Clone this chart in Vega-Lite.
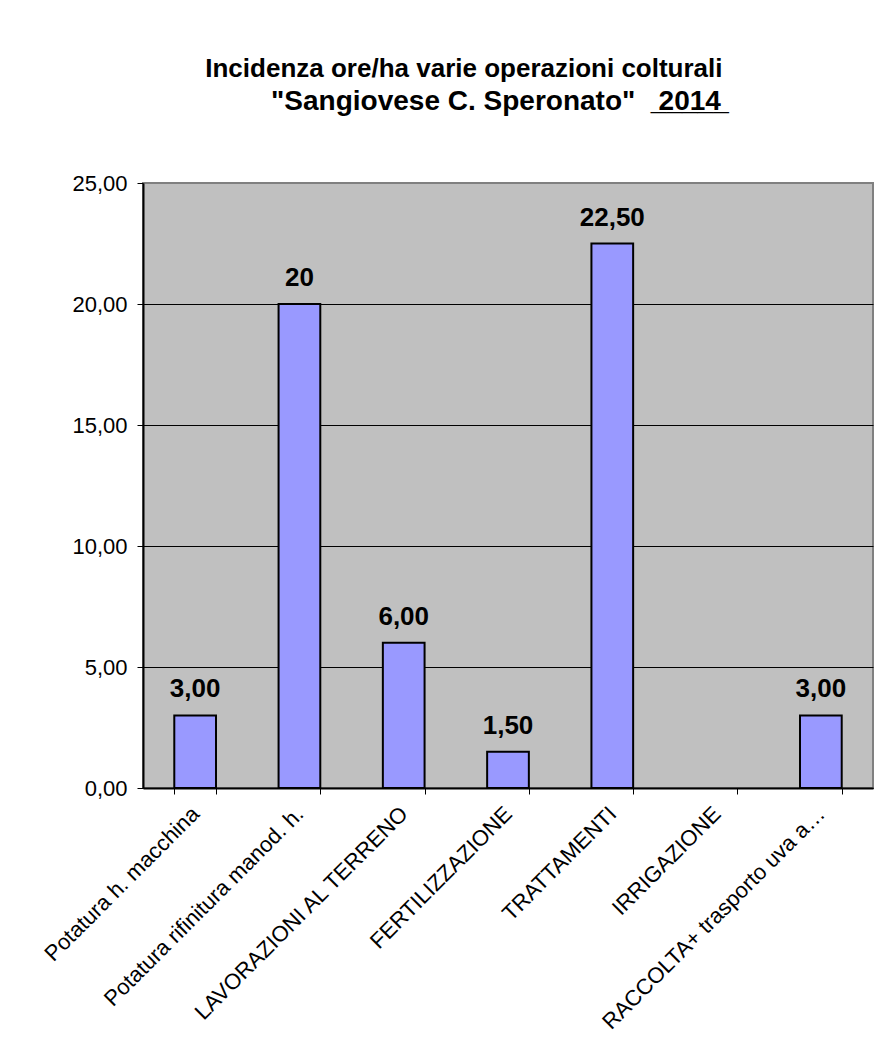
{
  "$schema": "https://vega.github.io/schema/vega-lite/v6.json",
  "width": 730,
  "height": 605,
  "autosize": {"type": "none"},
  "padding": {"left": 143, "top": 183, "right": 10, "bottom": 265},
  "background": "white",
  "title": {
    "text": "Incidenza ore/ha varie operazioni colturali\u00a0\u2800\u2800\u2800",
    "subtitle": "\"Sangiovese C. Speronato\" \u00a0\u00a0\u03322\u03320\u03321\u03324\u0332",
    "font": "Liberation Sans",
    "fontSize": 26,
    "fontWeight": "bold",
    "color": "black",
    "subtitleFont": "Liberation Sans",
    "subtitleFontSize": 28,
    "subtitleFontWeight": "bold",
    "subtitleColor": "black",
    "subtitlePadding": 6,
    "anchor": "middle",
    "baseline": "top",
    "dx": -12,
    "offset": 56
  },
  "data": {
    "values": [
      {"operazione": "Potatura h. macchina", "ore": 3, "etichetta": "3,00"},
      {"operazione": "Potatura rifinitura manod. h.", "ore": 20, "etichetta": "20"},
      {"operazione": "LAVORAZIONI AL TERRENO", "ore": 6, "etichetta": "6,00"},
      {"operazione": "FERTILIZZAZIONE", "ore": 1.5, "etichetta": "1,50"},
      {"operazione": "TRATTAMENTI", "ore": 22.5, "etichetta": "22,50"},
      {"operazione": "IRRIGAZIONE", "ore": null, "etichetta": ""},
      {"operazione": "RACCOLTA+ trasporto uva a…", "ore": 3, "etichetta": "3,00"}
    ]
  },
  "encoding": {
    "x": {
      "field": "operazione",
      "type": "nominal",
      "sort": null,
      "scale": {
        "domain": ["Potatura h. macchina", "Potatura rifinitura manod. h.", "LAVORAZIONI AL TERRENO", "FERTILIZZAZIONE", "TRATTAMENTI", "IRRIGAZIONE", "RACCOLTA+ trasporto uva a…"],
        "paddingInner": 0.6,
        "paddingOuter": 0.3
      },
      "axis": {
        "title": null,
        "labelAngle": -45,
        "labelAlign": "right",
        "labelBaseline": "middle",
        "labelFont": "Liberation Sans",
        "labelFontSize": 22,
        "labelColor": "black",
        "labelPadding": 16,
        "labelLimit": 400,
        "tickBand": "extent",
        "tickSize": 6,
        "tickColor": "black",
        "tickWidth": 1,
        "domainColor": "black",
        "domainWidth": 2,
        "grid": false
      }
    },
    "y": {
      "field": "ore",
      "type": "quantitative",
      "scale": {"domain": [0, 25], "nice": false},
      "axis": {
        "title": null,
        "values": [0, 5, 10, 15, 20, 25],
        "labelExpr": "replace(format(datum.value, '.2f'), '.', ',')",
        "labelFont": "Liberation Sans",
        "labelFontSize": 22,
        "labelColor": "black",
        "labelPadding": 10,
        "tickSize": 6,
        "tickColor": "black",
        "tickWidth": 1,
        "domainColor": "black",
        "domainWidth": 2,
        "grid": true,
        "gridColor": {"condition": {"test": "datum.value === 25", "value": "#808080"}, "value": "black"},
        "gridWidth": 1,
        "gridOpacity": 1
      }
    }
  },
  "layer": [
    {
      "mark": {"type": "bar", "color": "#9999FF", "stroke": "black", "strokeWidth": 2}
    },
    {
      "mark": {"type": "text", "font": "Liberation Sans", "fontSize": 26, "fontWeight": "bold", "color": "black", "baseline": "alphabetic", "dy": -18},
      "encoding": {"text": {"field": "etichetta"}}
    }
  ],
  "config": {
    "view": {"fill": "#C0C0C0", "stroke": "#808080", "strokeWidth": 2}
  }
}
